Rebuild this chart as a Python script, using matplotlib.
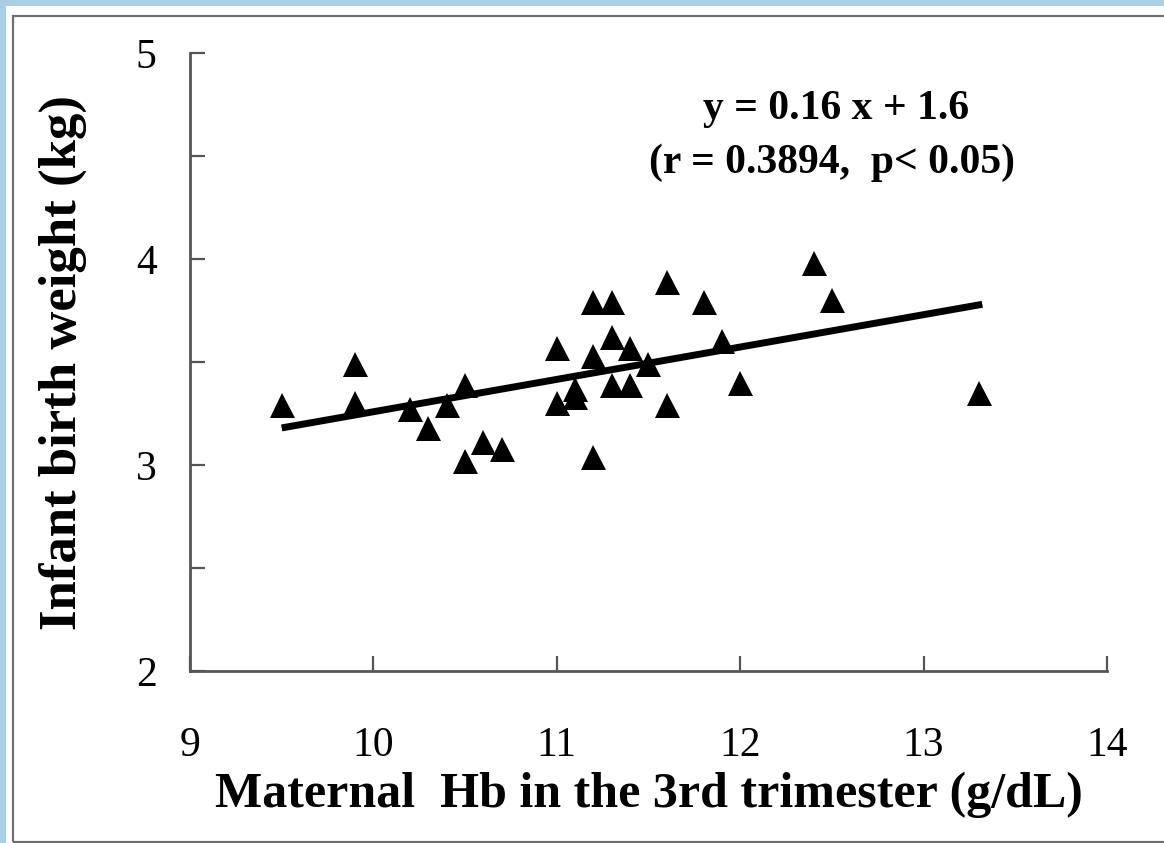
import matplotlib.pyplot as plt
import matplotlib.patches as patches

# Maternal Hb (g/dL) vs infant birth weight (kg)
hb = [9.5, 9.9, 9.9, 10.2, 10.3, 10.4, 10.5, 10.5, 10.6, 10.7,
      11.0, 11.0, 11.1, 11.1, 11.2, 11.2, 11.2, 11.3, 11.3, 11.3,
      11.4, 11.4, 11.5, 11.6, 11.6, 11.8, 11.9, 12.0, 12.4, 12.5, 13.3]
weight = [3.29, 3.49, 3.30, 3.27, 3.18, 3.29, 3.39, 3.02, 3.11, 3.08,
          3.57, 3.30, 3.37, 3.33, 3.79, 3.53, 3.04, 3.79, 3.62, 3.39,
          3.57, 3.39, 3.49, 3.89, 3.29, 3.79, 3.60, 3.40, 3.98, 3.80, 3.35]

# regression line as drawn
fit_x = [9.5, 13.32]
fit_y = [3.18, 3.78]

x_ticks = [9, 10, 11, 12, 13, 14]
y_ticks = [2, 3, 4, 5]
y_minor = [2.5, 3.5, 4.5]

W, H = 1164, 843
fig = plt.figure(figsize=(W / 100, H / 100), dpi=100)
fig.patch.set_facecolor("#aacfe5")

# white slide area and its thin grey frame
fig.patches.append(patches.Rectangle((6 / W, 0), 1, 1 - 6 / H, transform=fig.transFigure,
                                     facecolor="white", edgecolor="none", zorder=0))
fig.patches.append(patches.Rectangle((13 / W, 1 / H), 1.2, 1 - 17 / H, transform=fig.transFigure,
                                     facecolor="none", edgecolor="#707070", linewidth=1.6, zorder=1))

ax = fig.add_axes([190 / W, 1 - 671 / H, (1107 - 190) / W, (671 - 53) / H])
ax.set_zorder(3)
ax.set_facecolor("none")

ax.plot(hb, weight, linestyle="none", marker="^", markersize=18,
        color="black", markeredgewidth=0)
ax.plot(fit_x, fit_y, color="black", linewidth=5, solid_capstyle="butt")

ax.set_xlim(9, 14)
ax.set_ylim(2, 5)
ax.set_xticks(x_ticks)
ax.set_yticks(y_ticks)
ax.set_yticks(y_minor, minor=True)

serif = ["Liberation Serif", "DejaVu Serif"]
for lab in ax.get_xticklabels() + ax.get_yticklabels():
    lab.set_family(serif)
    lab.set_fontsize(30)

ax.tick_params(axis="both", which="both", direction="in", length=11,
               width=1.6, color="#555555")
ax.tick_params(axis="x", pad=40)
ax.tick_params(axis="y", pad=24)

for side in ["top", "right"]:
    ax.spines[side].set_visible(False)
for side in ["left", "bottom"]:
    ax.spines[side].set_color("#555555")
    ax.spines[side].set_linewidth(2)

ax.set_xlabel("Maternal  Hb in the 3rd trimester (g/dL)", family=serif,
              fontweight="bold", fontsize=36, labelpad=5)
ax.set_ylabel("Infant birth weight (kg)", family=serif,
              fontweight="bold", fontsize=38, labelpad=35)

ax.text(0.705, 0.91, "y = 0.16 x + 1.6", transform=ax.transAxes, ha="center",
        va="center", family=serif, fontweight="bold", fontsize=30)
ax.text(0.70, 0.822, "(r = 0.3894,  p< 0.05)", transform=ax.transAxes, ha="center",
        va="center", family=serif, fontweight="bold", fontsize=30)

fig.savefig("out.png", dpi=100, facecolor=fig.get_facecolor())
